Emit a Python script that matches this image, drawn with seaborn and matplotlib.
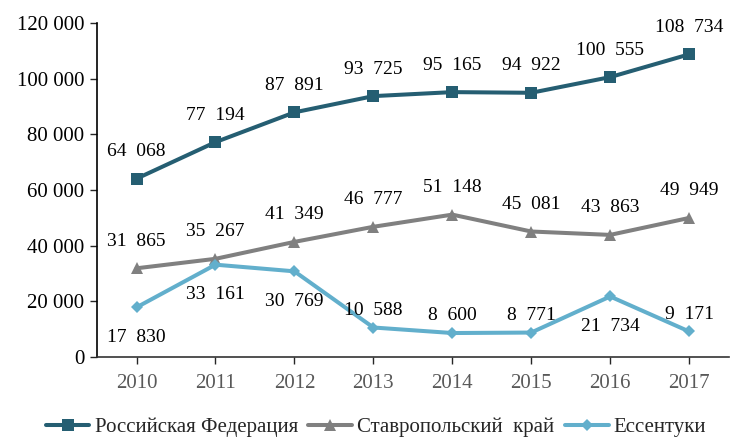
import pandas as pd
import matplotlib.pyplot as plt
import seaborn as sns

years = ['2010', '2011', '2012', '2013', '2014', '2015', '2016', '2017']
russia = [64068, 77194, 87891, 93725, 95165, 94922, 100555, 108734]
stavropol = [31865, 35267, 41349, 46777, 51148, 45081, 43863, 49949]
essentuki = [17830, 33161, 30769, 10588, 8600, 8771, 21734, 9171]
names = ['Российская Федерация', 'Ставропольский  край', 'Ессентуки']

# where to put the value labels for each series (+ above, - below)
label_side = {
    names[0]: [1] * 8,
    names[1]: [1] * 8,
    names[2]: [-1, -1, -1, 1, 1, 1, -1, 1],
}

colors = {names[0]: '#255E72', names[1]: '#808080', names[2]: '#62AFCC'}
markers = {names[0]: 's', names[1]: '^', names[2]: 'D'}
msizes = {names[0]: 8, names[1]: 8.5, names[2]: 6.5}

df = pd.concat([
    pd.DataFrame({'Год': years, 'Значение': vals, 'Ряд': name})
    for name, vals in zip(names, [russia, stavropol, essentuki])
])

sns.set_style('white')
plt.rcParams['font.family'] = ['Liberation Serif', 'DejaVu Serif']

fig = plt.figure(figsize=(7.3, 4.38), dpi=100)
ax = fig.add_axes([0.133, 0.185, 0.865, 0.7625])

for name in names:
    sub = df[df['Ряд'] == name]
    sns.lineplot(data=sub, x='Год', y='Значение', ax=ax, color=colors[name],
                 marker=markers[name], markersize=msizes[name], markeredgewidth=0,
                 linewidth=2.9, label=name, sort=False)
    for i, (x, v) in enumerate(zip(sub['Год'], sub['Значение'])):
        side = label_side[name][i]
        off = 19.5 if side > 0 else -21.5
        if name == names[2] and side > 0:
            off = 12.5
        ax.annotate(f'{v:,}'.replace(',', '  '), (i, v), xytext=(0, off),
                    textcoords='offset points', ha='center', va='center',
                    fontsize=14, color='black')

ax.set_xlim(-0.5, 7.5)
ax.set_ylim(0, 120000)
ax.set_yticks(range(0, 120001, 20000))
ax.set_yticklabels([f'{t:,}'.replace(',', ' ') for t in range(0, 120001, 20000)],
                   fontsize=15, color='black')
ax.tick_params(axis='x', labelsize=15, labelcolor='#595959', length=5,
               width=1, direction='out', bottom=True, pad=7)
ax.tick_params(axis='y', length=5, width=1, direction='out', left=True, pad=4)
ax.set_xlabel('')
ax.set_ylabel('')
for s in ['top', 'right']:
    ax.spines[s].set_visible(False)
ax.spines['left'].set_color('black')
ax.spines['bottom'].set_color('#333333')
ax.spines['left'].set_linewidth(1.2)
ax.spines['bottom'].set_linewidth(1.2)

ax.legend(loc='center', bbox_to_anchor=(0.515, 0.025), bbox_transform=fig.transFigure,
          ncol=3, frameon=False, fontsize=15, handlelength=2.1,
          handletextpad=0.25, columnspacing=0.5, borderpad=0)

fig.savefig('out.png', dpi=100)
